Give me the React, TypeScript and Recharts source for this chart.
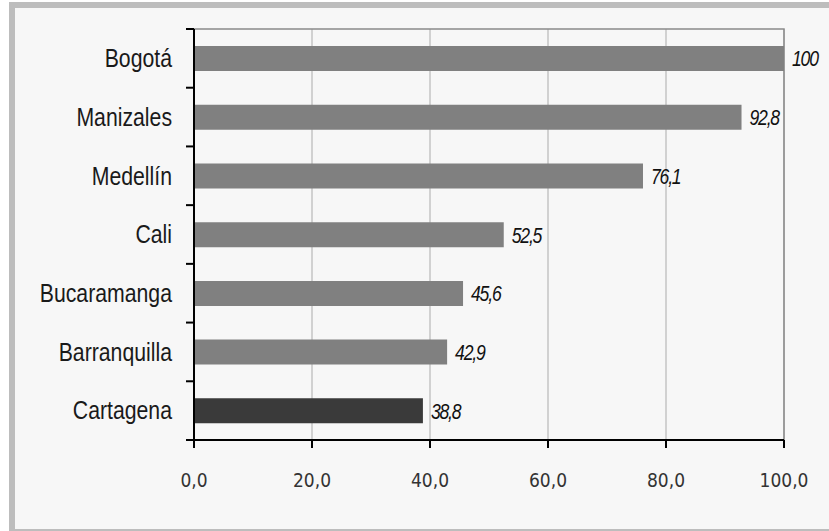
import React from "react";
import {
  Bar,
  BarChart,
  CartesianGrid,
  Cell,
  LabelList,
  ReferenceArea,
  XAxis,
  YAxis,
} from "recharts";

const cities = [
  "Bogotá",
  "Manizales",
  "Medellín",
  "Cali",
  "Bucaramanga",
  "Barranquilla",
  "Cartagena",
];
const values = [100, 92.8, 76.1, 52.5, 45.6, 42.9, 38.8];
const xTicks = [0, 20, 40, 60, 80, 100];
const highlightCity = "Cartagena";

const W = 829;
const H = 531;
const PLOT_TOP = 29;
const PLOT_BOTTOM = 440;
const AXIS_X = 194;
const PLOT_H = PLOT_BOTTOM - PLOT_TOP;

const data = cities.map((name, i) => ({ name, value: values[i] }));

const comma = (v: number | string) => String(v).replace(".", ",");

const CityTick = (props: any) => {
  const { x, y, payload, index } = props;
  const band = PLOT_H / cities.length;
  return (
    <g>
      <text
        transform={`translate(${x},${y}) scale(0.85,1)`}
        dy="0.35em"
        textAnchor="end"
        fill="#1a1a1a"
        fontSize={25}
        fontFamily="'Liberation Sans', Arial, sans-serif"
      >
        {payload.value}
      </text>
      <line x1={AXIS_X - 8} x2={AXIS_X} y1={y - band / 2} y2={y - band / 2} stroke="#000" strokeWidth={2} />
      {index === cities.length - 1 && (
        <line x1={AXIS_X - 8} x2={AXIS_X} y1={y + band / 2} y2={y + band / 2} stroke="#000" strokeWidth={2} />
      )}
    </g>
  );
};

const ValueLabel = (props: any) => {
  const { x, y, width, height, value } = props;
  return (
    <text
      transform={`translate(${x + width + 8},${y + height / 2}) scale(0.8,1)`}
      dy="0.36em"
      fill="#111"
      fontSize={22}
      fontStyle="italic"
      letterSpacing={-1.5}
      fontFamily="'Liberation Sans', Arial, sans-serif"
    >
      {comma(value)}
    </text>
  );
};

export default function App() {
  return (
    <div style={{ position: "absolute", left: 0, top: 0, width: W, height: H, overflow: "hidden", background: "#fff" }}>
      <div
        style={{
          position: "absolute",
          left: 9,
          top: 2,
          width: 840,
          height: 533,
          boxSizing: "border-box",
          border: "6px solid #bdbdbd",
          background: "#f7f7f7",
        }}
      />
      <div style={{ position: "absolute", left: 0, top: 0 }}>
        <BarChart
          width={W}
          height={H}
          data={data}
          layout="vertical"
          margin={{ top: PLOT_TOP, right: 45, bottom: 0, left: 0 }}
          barCategoryGap="29%"
        >
          <CartesianGrid horizontal={false} vertical stroke="#c4c4c4" strokeWidth={1.5} />
          <ReferenceArea x1={0} x2={100} fill="none" stroke="#8a8a8a" strokeWidth={1.5} ifOverflow="visible" />
          <XAxis
            type="number"
            domain={[0, 100]}
            ticks={xTicks}
            tickFormatter={(v) => (v as number).toFixed(1).replace(".", ",")}
            height={H - PLOT_BOTTOM}
            stroke="#000"
            strokeWidth={2}
            tickSize={8}
            tickMargin={26}
            tick={{ fill: "#333", fontSize: 19, fontFamily: "'DejaVu Sans Condensed', 'DejaVu Sans', sans-serif" }}
          />
          <YAxis
            type="category"
            dataKey="name"
            width={AXIS_X}
            stroke="#000"
            strokeWidth={2}
            tickLine={false}
            tickSize={0}
            tickMargin={22}
            tick={<CityTick />}
            interval={0}
          />
          <Bar dataKey="value" isAnimationActive={false}>
            {data.map((d) => (
              <Cell key={d.name} fill={d.name === highlightCity ? "#3a3a3a" : "#808080"} />
            ))}
            <LabelList dataKey="value" content={<ValueLabel />} />
          </Bar>
        </BarChart>
      </div>
    </div>
  );
}
